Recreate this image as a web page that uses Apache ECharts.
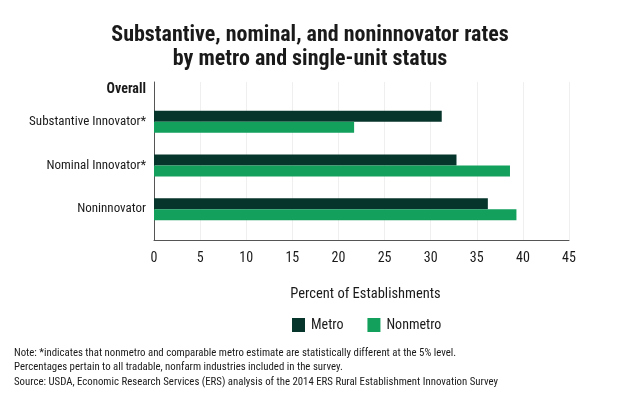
<!DOCTYPE html>
<html>
<head>
<meta charset="utf-8">
<script src="https://cdn.jsdelivr.net/npm/echarts@6/dist/echarts.min.js"></script>
<style>html,body{margin:0;padding:0;background:#fff}#c{width:620px;height:393px}</style>
</head>
<body>
<div id="c"></div>
<script>
const categories = ['Substantive Innovator*', 'Nominal Innovator*', 'Noninnovator'];
const metro = [31.2, 32.8, 36.2];
const nonmetro = [21.7, 38.6, 39.3];
const xTicks = [0, 5, 10, 15, 20, 25, 30, 35, 40, 45];
const titleText = 'Substantive, nominal, and noninnovator rates\nby metro and single-unit status';
const notes = [
  'Note: *indicates that nonmetro and comparable metro estimate are statistically different at the 5% level.',
  'Percentages pertain to all tradable, nonfarm industries included in the survey.',
  'Source: USDA, Economic Research Services (ERS) analysis of the 2014 ERS Rural Establishment Innovation Survey'
];
const FONT = '"Roboto Condensed", "DejaVu Sans Condensed"';
const C_METRO = '#06352b';
const C_NON = '#12a05c';

const chart = echarts.init(document.getElementById('c'), null, {renderer: 'canvas'});
chart.setOption({
  animation: false,
  backgroundColor: '#fff',
  title: {
    text: titleText, left: 'center', top: 18,
    textStyle: {fontFamily: FONT, fontWeight: 'bold', fontSize: 22, lineHeight: 24, color: '#1a1a1a'}
  },
  legend: {
    data: ['Metro', 'Nonmetro'], left: 287, top: 313, itemWidth: 13, itemHeight: 14, itemGap: 24,
    icon: 'rect',
    textStyle: {fontFamily: FONT, fontSize: 14, color: '#1a1a1a', padding: [0, 0, 0, 1]}
  },
  grid: [
    {left: 154, right: 51, top: 100, height: 131},
    {left: 154, right: 51, top: 82, height: 158}
  ],
  xAxis: [
    {gridIndex: 0, type: 'value', min: 0, max: 45, interval: 5, show: false},
    {gridIndex: 1, type: 'value', min: 0, max: 45, interval: 5,
      name: 'Percent of Establishments', nameLocation: 'middle', nameGap: 47,
      nameTextStyle: {fontFamily: FONT, fontSize: 14.5, color: '#1a1a1a', padding: [0, 0, 0, 8]},
      axisLine: {show: true, lineStyle: {color: '#555', width: 1}},
      axisTick: {show: false},
      axisLabel: {fontFamily: FONT, fontSize: 14, color: '#1a1a1a', margin: 11,
        formatter: v => xTicks.includes(v) ? String(v) : ''},
      splitLine: {show: true, lineStyle: {color: '#efefef', width: 1}}
    }
  ],
  yAxis: [
    {gridIndex: 0, type: 'category', data: categories, inverse: true,
      axisLine: {show: false}, axisTick: {show: false},
      axisLabel: {fontFamily: FONT, fontSize: 13, color: '#1a1a1a', margin: 8}
    },
    {gridIndex: 1, type: 'value', min: 0, max: 1,
      axisLine: {show: true, lineStyle: {color: '#555', width: 1}},
      axisTick: {show: false}, axisLabel: {show: false}, splitLine: {show: false}
    }
  ],
  graphic: [
    {type: 'text', x: 146, y: 89, style: {text: 'Overall', align: 'right', verticalAlign: 'middle',
      font: 'bold 14px ' + FONT, fill: '#1a1a1a'}},
    {type: 'text', x: 14, y: 346, style: {text: notes.join('\n'), lineHeight: 14.5,
      font: '10.8px ' + FONT, fill: '#1a1a1a'}}
  ],
  series: [
    {name: 'Metro', type: 'bar', xAxisIndex: 0, yAxisIndex: 0, data: metro, barWidth: 11, barGap: '0%',
      itemStyle: {color: C_METRO}},
    {name: 'Nonmetro', type: 'bar', xAxisIndex: 0, yAxisIndex: 0, data: nonmetro, barWidth: 11, barGap: '0%',
      itemStyle: {color: C_NON}}
  ]
});
</script>
</body>
</html>
